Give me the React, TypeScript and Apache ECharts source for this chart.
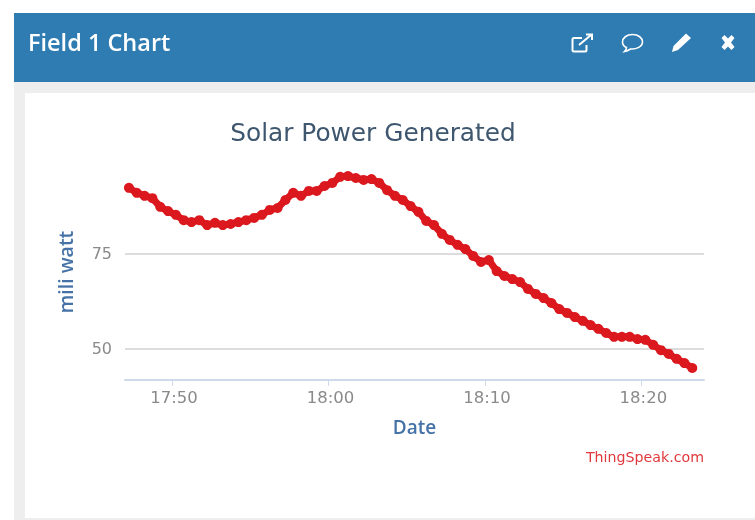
import React, { useEffect, useRef } from "react";
import * as echarts from "echarts";

const panelTitle = "Field 1 Chart";
const chartTitle = "Solar Power Generated";
const yAxisName = "mili watt";
const xAxisName = "Date";
const credit = "ThingSpeak.com";

const yTicks = [50, 75];
const xTicks = ["17:50", "18:00", "18:10", "18:20"];
const xMin = "17:47";
const xMax = "18:24";
const yMin = 41.84;
const yMax = 98.68;

const firstSample = "17:47:15";
const sampleSeconds = 30;
const watts = [
  92.4, 91.1, 90.3, 89.7, 87.4, 86.3, 85.3, 83.9, 83.4, 83.9,
  82.6, 83.2, 82.6, 82.9, 83.4, 83.9, 84.5, 85.3, 86.6, 87.1,
  89.2, 91.1, 90.3, 91.6, 91.6, 92.9, 93.7, 95.3, 95.5, 95.0,
  94.5, 94.7, 93.7, 91.8, 90.3, 89.2, 87.6, 86.1, 83.7, 82.6,
  80.3, 78.7, 77.4, 76.3, 74.5, 72.9, 73.4, 70.5, 69.2, 68.4,
  67.6, 65.8, 64.5, 63.4, 62.1, 60.5, 59.5, 58.4, 57.4, 56.3,
  55.3, 54.2, 53.2, 53.2, 53.2, 52.6, 52.4, 51.1, 49.7, 48.7,
  47.4, 46.3, 45.0,
];

const toTime = (hhmm: string) => {
  const [h, m, s] = hhmm.split(":").map(Number);
  return new Date(2020, 0, 1, h, m, s || 0).getTime();
};

const pad = (n: number) => String(n).padStart(2, "0");

echarts.graphic.registerShape(
  "iconExternal",
  echarts.graphic.extendPath(
    "M582 38 H574 Q572.5 38 572.5 39.5 V50 Q572.5 51.5 574 51.5 H585 Q586.5 51.5 586.5 50 V45 M579 45 L591 35 M586 34.5 H592 V40",
    {}
  )
);
echarts.graphic.registerShape(
  "iconBubble",
  echarts.graphic.extendPath(
    "M632.5 34.5 C626.5 34.5 622.5 38 622.5 42 C622.5 44.5 624 46.5 626.5 47.5 C626.5 49 625.5 50.5 624.5 51.5 C627 51 629 50 630.5 49 C636.5 49.5 642.5 46.5 642.5 42 C642.5 38 638.5 34.5 632.5 34.5 Z",
    {}
  )
);
echarts.graphic.registerShape(
  "iconPencil",
  echarts.graphic.extendPath(
    "M686 33.5 L691 38 L678 50 L672 52 L673.5 46 Z",
    {}
  )
);
echarts.graphic.registerShape(
  "iconClose",
  echarts.graphic.extendPath(
    "M721.5 38 L724.5 35 L728 38.5 L731.5 35 L734.5 38 L731 42.5 L734.5 47 L731.5 50 L728 46.5 L724.5 50 L721.5 47 L725 42.5 Z",
    {}
  )
);

export default function App() {
  const ref = useRef<HTMLDivElement>(null);

  useEffect(() => {
    document.body.style.margin = "0";
    const chart = echarts.init(ref.current!, undefined, { renderer: "svg" });
    const start = toTime(firstSample);
    const series = watts.map((v, i) => [start + i * sampleSeconds * 1000, v]);
    const white = "#ffffff";
    chart.setOption({
      animation: false,
      backgroundColor: "#ffffff",
      title: {
        text: chartTitle,
        left: 368,
        top: 115,
        textAlign: "center",
        textStyle: {
          fontFamily: "DejaVu Sans",
          fontWeight: "normal",
          fontSize: 24.8,
          color: "#3e576f",
        },
      },
      grid: { left: 125, right: 51, top: 164, bottom: 140, containLabel: false },
      xAxis: {
        type: "value",
        min: toTime(xMin),
        max: toTime(xMax),
        name: xAxisName,
        nameLocation: "middle",
        nameGap: 37,
        nameTextStyle: {
          fontFamily: "Open Sans",
          fontSize: 19,
          fontWeight: 600,
          color: "#4572a7",
        },
        axisLine: { show: true, onZero: false, lineStyle: { color: "#cddaea", width: 2 } },
        axisTick: {
          show: true,
          length: 6,
          lineStyle: { color: "#cddaea" },
          customValues: xTicks.map(toTime),
        },
        axisLabel: {
          show: true,
          margin: 9,
          padding: [0, 0, 0, 4],
          fontFamily: "DejaVu Sans",
          fontSize: 16.5,
          color: "#8a8a8a",
          customValues: xTicks.map(toTime),
          formatter: (v: number) => {
            const d = new Date(v);
            return `${pad(d.getHours())}:${pad(d.getMinutes())}`;
          },
        },
        splitLine: { show: false },
      },
      yAxis: {
        type: "value",
        min: yMin,
        max: yMax,
        name: yAxisName,
        nameLocation: "middle",
        nameGap: 50,
        nameTextStyle: {
          fontFamily: "Open Sans",
          fontSize: 19.5,
          fontWeight: 600,
          color: "#4572a7",
        },
        axisLine: { show: false },
        axisTick: { show: false, customValues: yTicks },
        axisLabel: {
          margin: 13,
          fontFamily: "DejaVu Sans",
          fontSize: 16,
          color: "#8a8a8a",
          customValues: yTicks,
        },
        splitLine: { show: true, lineStyle: { color: "#dcdcdc", width: 2 } },
      },
      series: [
        {
          type: "line",
          data: series,
          symbol: "circle",
          symbolSize: 10,
          showSymbol: true,
          showAllSymbol: true,
          clip: false,
          lineStyle: { color: "#db181e", width: 7 },
          itemStyle: { color: "#db181e" },
        },
      ],
      graphic: [
        { type: "rect", z: -10, silent: true, shape: { x: 14, y: 82, width: 741, height: 438 }, style: { fill: "#eeeeee" } },
        { type: "rect", z: -9, silent: true, shape: { x: 25, y: 93, width: 730, height: 425 }, style: { fill: white } },
        { type: "rect", z: -8, silent: true, shape: { x: 14, y: 13, width: 741, height: 69 }, style: { fill: "#2e7cb2" } },
        {
          type: "text",
          x: 28,
          y: 42,
          style: {
            text: panelTitle,
            fill: white,
            font: "600 23.5px 'Open Sans'",
            verticalAlign: "middle",
          },
        },
        { type: "iconExternal", x: 0, y: 0, style: { fill: "none", stroke: white, lineWidth: 2 } },
        { type: "iconBubble", x: 0, y: 0, style: { fill: "none", stroke: white, lineWidth: 1.6 } },
        { type: "iconPencil", x: 0, y: 0, style: { fill: white } },
        { type: "iconClose", x: 0, y: 0, style: { fill: white } },
        {
          type: "text",
          x: 704,
          y: 457,
          style: {
            text: credit,
            fill: "#e0383c",
            font: "14.2px 'DejaVu Sans'",
            align: "right",
            verticalAlign: "middle",
          },
        },
      ],
    });
    return () => chart.dispose();
  }, []);

  return <div ref={ref} style={{ width: 755, height: 520, filter: "blur(0.7px)" }} />;
}
